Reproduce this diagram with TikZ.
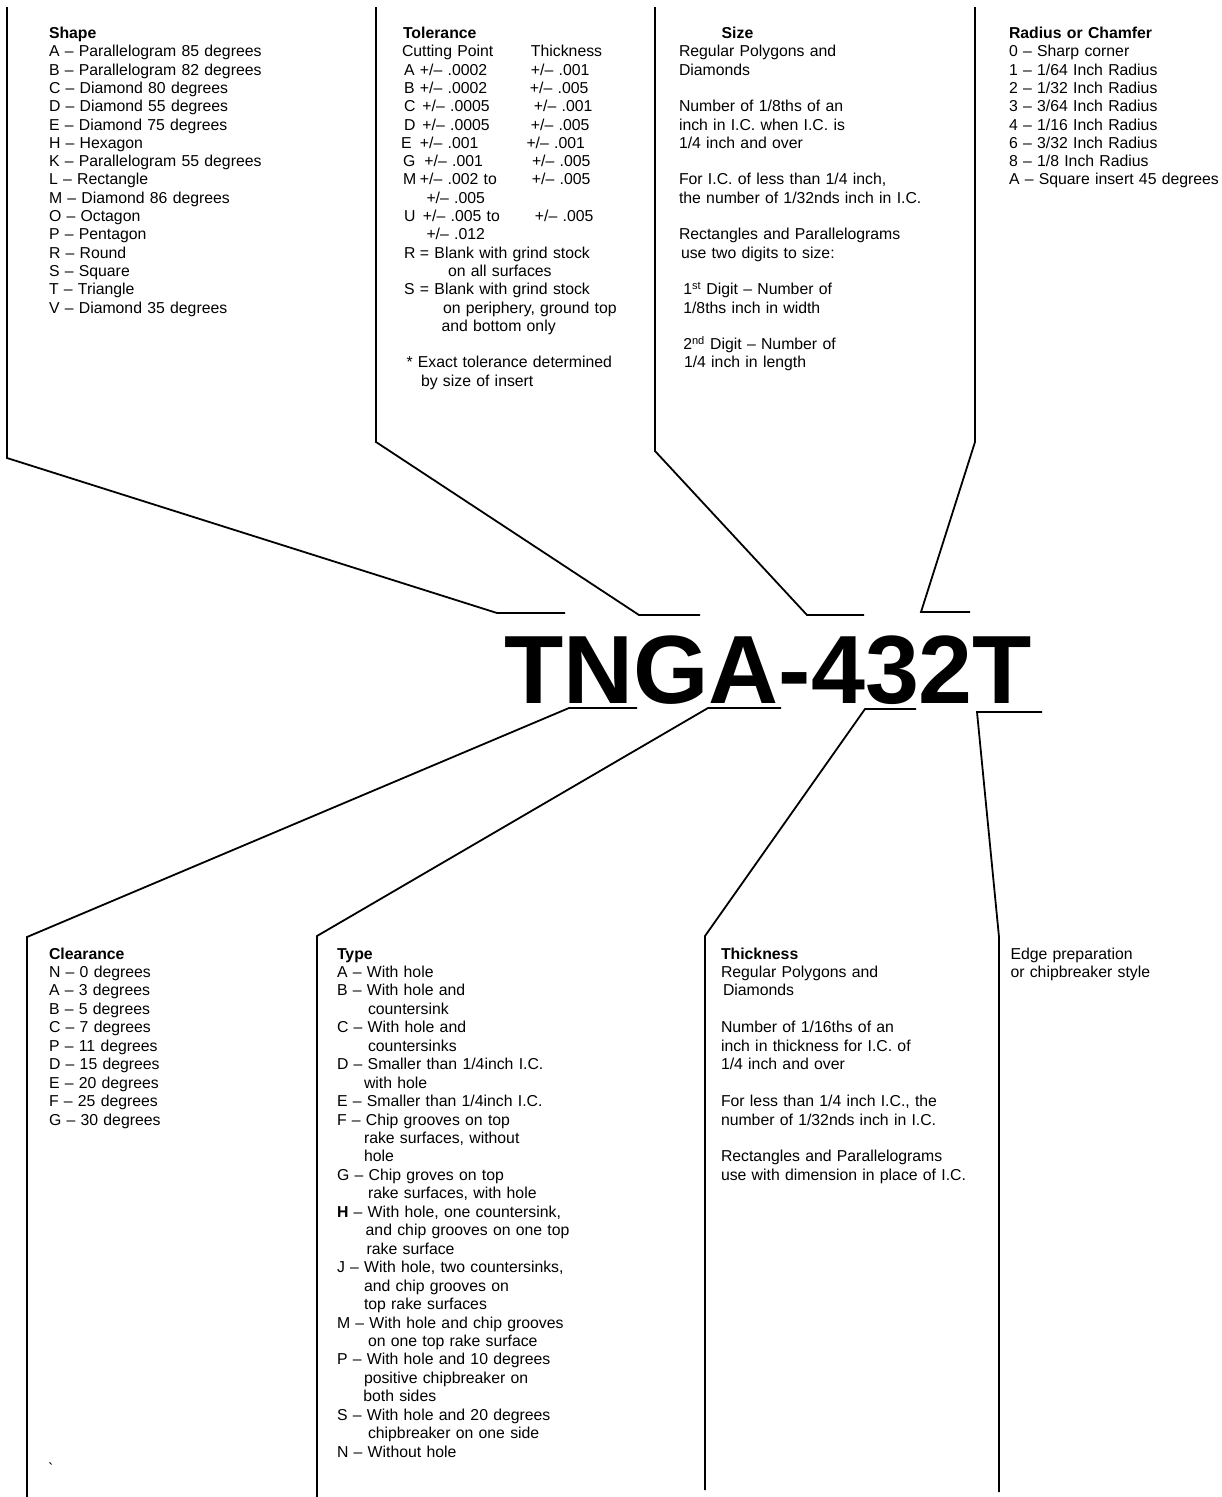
\documentclass[tikz,border=0pt]{standalone}
\usepackage{fontspec}
\setmainfont{Liberation Sans}
\newcommand\offs[2]{\makebox[0pt][l]{\hspace*{#1pt}#2}}
\newcommand\blankline{\mbox{}}
\begin{document}
\begin{tikzpicture}[x=1pt,y=-1pt,
  lead/.style={line width=1.8pt, line join=miter},
  blk/.style={anchor=base west, inner sep=0pt, outer sep=0pt, text width=300pt, align=left,
              font=\fontsize{15.8}{18.3}\selectfont},
  blkb/.style={blk, font=\fontsize{15.8}{18.45}\selectfont},
  code/.style={anchor=base west, inner sep=0pt, outer sep=0pt,
              font=\fontsize{97}{100}\selectfont\bfseries}]
\useasboundingbox[fill=white] (0,0) rectangle (1222,1497);

% ---------- code ----------
\node[code] (code) at (504,703.3) {TNGA-432T};

% ---------- top blocks ----------
\node[blk] (shape) at (49,38.5) {\textbf{Shape}\\
A – Parallelogram 85 degrees\\
B – Parallelogram 82 degrees\\
C – Diamond 80 degrees\\
D – Diamond 55 degrees\\
E – Diamond 75 degrees\\
H – Hexagon\\
K – Parallelogram 55 degrees\\
L – Rectangle\\
M – Diamond 86 degrees\\
O – Octagon\\
P – Pentagon\\
R – Round\\
S – Square\\
T – Triangle\\
V – Diamond 35 degrees};

\node[blk] (tol) at (402,38.5) {\offs{1}{\textbf{Tolerance}}\\
\offs{0}{Cutting Point}\offs{129}{Thickness}\\
\offs{2}{A}\offs{18}{+/– .0002}\offs{129}{+/– .001}\\
\offs{2}{B}\offs{18}{+/– .0002}\offs{128}{+/– .005}\\
\offs{2}{C}\offs{20.5}{+/– .0005}\offs{132}{+/– .001}\\
\offs{2}{D}\offs{20.5}{+/– .0005}\offs{129}{+/– .005}\\
\offs{-1}{E}\offs{18}{+/– .001}\offs{124.5}{+/– .001}\\
\offs{1}{G}\offs{22.5}{+/– .001}\offs{130}{+/– .005}\\
\offs{1}{M}\offs{18}{+/– .002 to}\offs{130}{+/– .005}\\
\offs{24.5}{+/– .005}\\
\offs{2}{U}\offs{21}{+/– .005 to}\offs{133}{+/– .005}\\
\offs{24.5}{+/– .012}\\
\offs{2}{R}\offs{18}{= Blank with grind stock}\\
\offs{46}{on all surfaces}\\
\offs{2}{S}\offs{18}{= Blank with grind stock}\\
\offs{41}{on periphery, ground top}\\
\offs{39.5}{and bottom only}\\
\blankline\\
\offs{4.5}{* Exact tolerance determined}\\
\offs{19}{by size of insert}};

\node[blk] (size) at (679,38.5) {\offs{42.7}{\textbf{Size}}\\
Regular Polygons and\\
Diamonds\\
\blankline\\
Number of 1/8ths of an\\
inch in I.C. when I.C. is\\
1/4 inch and over\\
\blankline\\
For I.C. of less than 1/4 inch,\\
the number of 1/32nds inch in I.C.\\
\blankline\\
Rectangles and Parallelograms\\
\offs{2}{use two digits to size:}\\
\blankline\\
\offs{4.3}{1\smash{\textsuperscript{st}} Digit – Number of}\\
\offs{4.3}{1/8ths inch in width}\\
\blankline\\
\offs{4.3}{2\smash{\textsuperscript{nd}} Digit – Number of}\\
\offs{5}{1/4 inch in length}};

\node[blk] (radius) at (1009,38.5) {\textbf{Radius or Chamfer}\\
0 – Sharp corner\\
1 – 1/64 Inch Radius\\
2 – 1/32 Inch Radius\\
3 – 3/64 Inch Radius\\
4 – 1/16 Inch Radius\\
6 – 3/32 Inch Radius\\
8 – 1/8 Inch Radius\\
A – Square insert 45 degrees};

% ---------- bottom blocks ----------
\node[blkb] (clear) at (49,959) {\textbf{Clearance}\\
N – 0 degrees\\
A – 3 degrees\\
B – 5 degrees\\
C – 7 degrees\\
P – 11 degrees\\
D – 15 degrees\\
E – 20 degrees\\
F – 25 degrees\\
G – 30 degrees};
\node[blkb] (tick) at (48,1474) {\textasciigrave};

\node[blkb] (type) at (337,959) {\textbf{Type}\\
A – With hole\\
B – With hole and\\
\offs{31}{countersink}\\
C – With hole and\\
\offs{31}{countersinks}\\
D – Smaller than 1/4inch I.C.\\
\offs{27}{with hole}\\
E – Smaller than 1/4inch I.C.\\
F – Chip grooves on top\\
\offs{27}{rake surfaces, without}\\
\offs{27}{hole}\\
G – Chip groves on top\\
\offs{31}{rake surfaces, with hole}\\
\textbf{H} – With hole, one countersink,\\
\offs{28.7}{and chip grooves on one top}\\
\offs{29.7}{rake surface}\\
J – With hole, two countersinks,\\
\offs{27}{and chip grooves on}\\
\offs{27}{top rake surfaces}\\
M – With hole and chip grooves\\
\offs{31}{on one top rake surface}\\
P – With hole and 10 degrees\\
\offs{27}{positive chipbreaker on}\\
\offs{26.3}{both sides}\\
S – With hole and 20 degrees\\
\offs{31}{chipbreaker on one side}\\
N – Without hole};

\node[blkb] (thick) at (721,959) {\textbf{Thickness}\\
Regular Polygons and\\
\offs{2}{Diamonds}\\
\blankline\\
Number of 1/16ths of an\\
inch in thickness for I.C. of\\
1/4 inch and over\\
\blankline\\
For less than 1/4 inch I.C., the\\
number of 1/32nds inch in I.C.\\
\blankline\\
Rectangles and Parallelograms\\
use with dimension in place of I.C.};

\node[blkb] (edge) at (1010.5,959) {Edge preparation\\
or chipbreaker style};

% ---------- leader lines ----------
\coordinate (t1a) at (7,7);    \coordinate (t1b) at (7,458);
\coordinate (t1c) at (497,613); \coordinate (t1d) at (565,613);
\coordinate (t2a) at (376,7);  \coordinate (t2b) at (376,442);
\coordinate (t2c) at (639,615); \coordinate (t2d) at (700,615);
\coordinate (t3a) at (655,7);  \coordinate (t3b) at (655,451);
\coordinate (t3c) at (807,615); \coordinate (t3d) at (864,615);
\coordinate (t4a) at (975,7);  \coordinate (t4b) at (975,442);
\coordinate (t4c) at (921,612); \coordinate (t4d) at (970,612);

\coordinate (b1a) at (637,708); \coordinate (b1b) at (569,708);
\coordinate (b1c) at (27,937);  \coordinate (b1d) at (27,1497);
\coordinate (b2a) at (781,708); \coordinate (b2b) at (708,708);
\coordinate (b2c) at (317,936); \coordinate (b2d) at (317,1497);
\coordinate (b3a) at (916,709); \coordinate (b3b) at (865,709);
\coordinate (b3c) at (705,936); \coordinate (b3d) at (705,1490);
\coordinate (b4a) at (1042,712); \coordinate (b4b) at (977,712);
\coordinate (b4c) at (999,937);  \coordinate (b4d) at (999,1492);

\draw[lead] (t1a) -- (t1b) -- (t1c) -- (t1d);
\draw[lead] (t2a) -- (t2b) -- (t2c) -- (t2d);
\draw[lead] (t3a) -- (t3b) -- (t3c) -- (t3d);
\draw[lead] (t4a) -- (t4b) -- (t4c) -- (t4d);
\draw[lead] (b1a) -- (b1b) -- (b1c) -- (b1d);
\draw[lead] (b2a) -- (b2b) -- (b2c) -- (b2d);
\draw[lead] (b3a) -- (b3b) -- (b3c) -- (b3d);
\draw[lead] (b4a) -- (b4b) -- (b4c) -- (b4d);
\end{tikzpicture}
\end{document}
